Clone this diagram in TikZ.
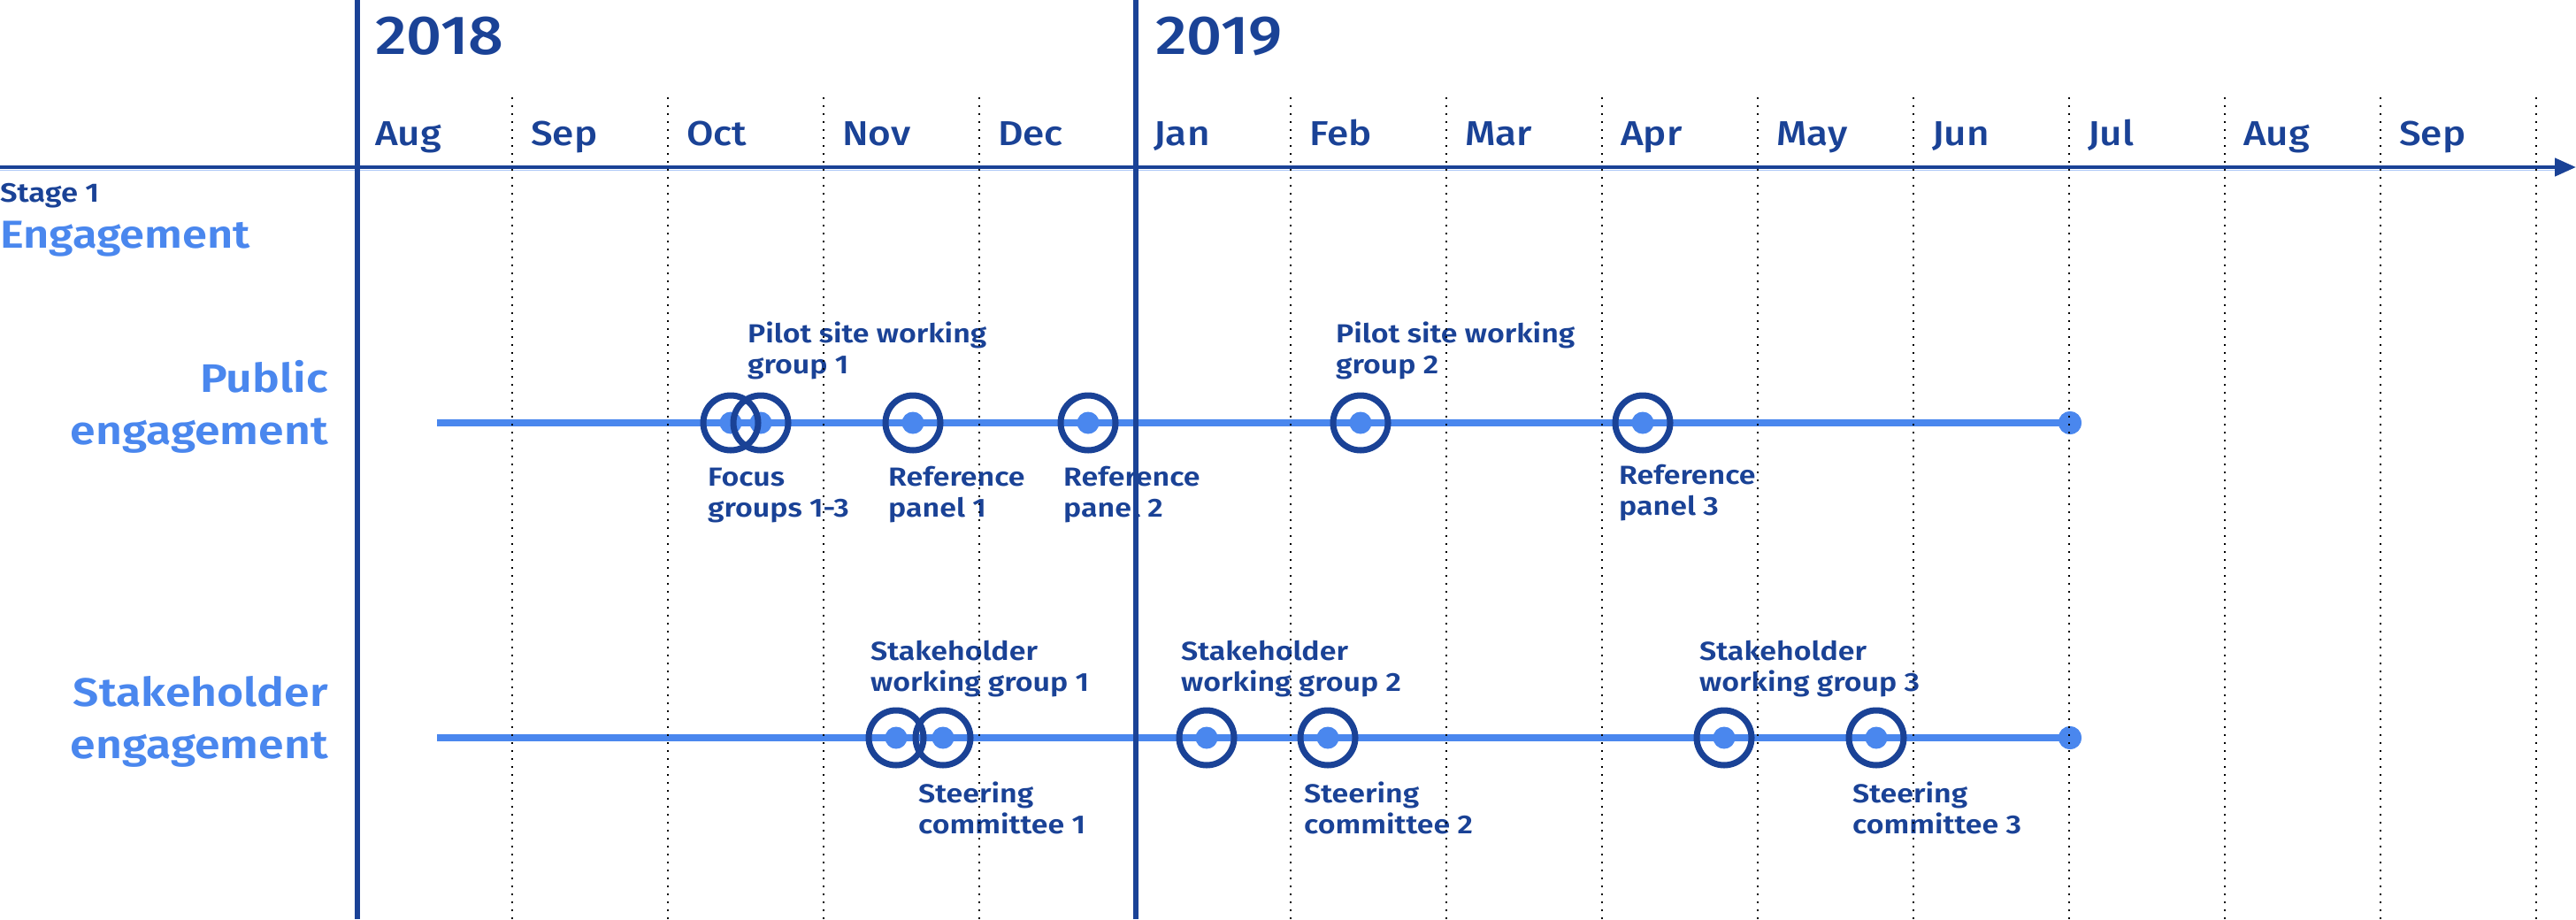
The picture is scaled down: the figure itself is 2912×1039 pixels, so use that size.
\documentclass[tikz,border=0pt]{standalone}
\usepackage{fontspec}
\setmainfont{Fira Sans}[BoldFont={Fira Sans SemiBold}, FakeStretch=1.15]
\newfontfamily\medfont{Fira Sans Medium}[FakeStretch=1.13]
\usetikzlibrary{arrows.meta}
\definecolor{navy}{HTML}{1A4296}
\definecolor{sky}{HTML}{4A87EE}

\tikzset{
  yearline/.style={navy, line width=6pt},
  monthline/.style={black, line width=2pt, dash pattern=on 2pt off 7pt},
  track/.style={sky, line width=8pt},
  ring/.style={circle, draw=navy, line width=7pt, minimum size=62pt, inner sep=0pt},
  core/.style={circle, fill=sky, minimum size=25pt, inner sep=0pt},
  enddot/.style={circle, fill=sky, minimum size=26pt, inner sep=0pt},
  % multi-line nodes: base anchor sits on the last line
  evlabel/.style={navy, font=\bfseries\fontsize{29.5}{35}\selectfont, align=left, anchor=base west, inner sep=0pt},
  rowhead/.style={sky, font=\bfseries\fontsize{45}{59}\selectfont, align=right, anchor=base east, inner sep=0pt},
  monthtxt/.style={navy, font=\medfont\fontsize{39}{47}\selectfont, anchor=base west, inner sep=0pt},
  yeartxt/.style={navy, font=\medfont\fontsize{62}{74}\selectfont, anchor=base west, inner sep=0pt},
}

\begin{document}
\begin{tikzpicture}[x=1pt, y=-1pt]
\useasboundingbox (0,0) rectangle (2912,1039);

% time axis
\coordinate (axisL) at (0,189);
\coordinate (axisR) at (2912,189);
\draw[sky!45, line width=1.5pt] (0,192.5) -- (2890,192.5);
\draw[navy, line width=4.5pt, -{Triangle[length=24pt, width=20pt]}] (axisL) -- (axisR);

% years and months
\node[yeartxt] (y18) at (424,61) {2018};
\node[yeartxt] (y19) at (1306,61) {2019};
\foreach \m [count=\i from 0] in {Aug,Sep,Oct,Nov,Dec,Jan,Feb,Mar,Apr,May,Jun,Jul,Aug,Sep}
  \node[monthtxt] (m\i) at (403+176*\i+21,164) {\m};

% stage heading
\node[navy, font=\bfseries\fontsize{30}{36}\selectfont, anchor=base west, inner sep=0pt] (stage) at (0,228) {Stage 1};
\node[sky, font=\bfseries\fontsize{44}{52}\selectfont, anchor=base west, inner sep=0pt] (eng) at (0,280) {Engagement};

% row headings
\node[rowhead] (pubhead) at (371,502) {Public\\engagement};
\node[rowhead] (stkhead) at (371,857) {Stakeholder\\engagement};

% tracks
\coordinate (pubStart) at (494,478);
\coordinate (stkStart) at (494,834);
\node[enddot] (pubEnd) at (2340,478) {};
\node[enddot] (stkEnd) at (2340,834) {};
\draw[track] (pubStart) -- (pubEnd.center);
\draw[track] (stkStart) -- (stkEnd.center);
\node[enddot] at (pubEnd) {};
\node[enddot] at (stkEnd) {};

% events: name/x/y
\def\events{fg/826/478, psA/860/478, rpA/1032/478, rpB/1230/478, psB/1538/478, rpC/1857/478,
  swA/1013/834, scA/1066/834, swB/1364/834, scB/1501/834, swC/1949/834, scC/2121/834}
\foreach \n/\x/\y in \events
  \node[core] (\n-c) at (\x,\y) {};
\foreach \n/\x/\y in \events
  \node[ring] (\n) at (\x,\y) {};

% public engagement labels
\node[evlabel] (l-ps1) at (845,422) {Pilot site working\\group 1};
\node[evlabel] (l-fg)  at (800,584) {Focus\\groups 1-3};
\node[evlabel] (l-rp1) at (1004,584) {Reference\\panel 1};
\node[evlabel] (l-rp2) at (1202,584) {Reference\\panel 2};
\node[evlabel] (l-ps2) at (1510,422) {Pilot site working\\group 2};
\node[evlabel] (l-rp3) at (1830,582) {Reference\\panel 3};

% stakeholder engagement labels
\node[evlabel] (l-sw1) at (984,781) {Stakeholder\\working group 1};
\node[evlabel] (l-sc1) at (1038,942) {Steering\\committee 1};
\node[evlabel] (l-sw2) at (1335,781) {Stakeholder\\working group 2};
\node[evlabel] (l-sc2) at (1474,942) {Steering\\committee 2};
\node[evlabel] (l-sw3) at (1921,781) {Stakeholder\\working group 3};
\node[evlabel] (l-sc3) at (2094,942) {Steering\\committee 3};

% month separators and year lines
\foreach \i in {1,2,3,4,6,7,8,9,10,11,12,13,14}
  \draw[monthline] (403+176*\i,110) -- (403+176*\i,1039);
\draw[yearline] (403.5,0) -- (403.5,1039);
\draw[yearline] (1284,0) -- (1284,1039);
\end{tikzpicture}
\end{document}
